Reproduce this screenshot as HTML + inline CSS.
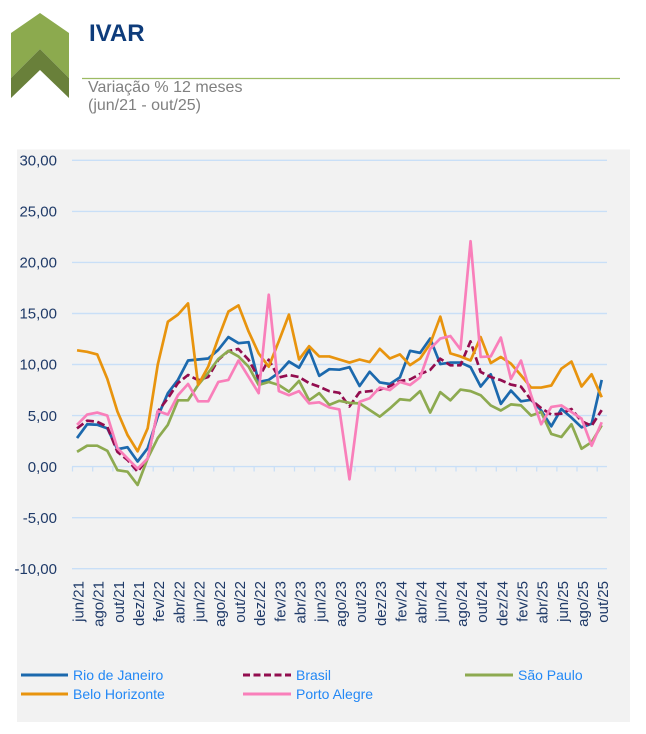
<!DOCTYPE html>
<html>
<head>
<meta charset="utf-8">
<style>
  html,body{margin:0;padding:0;background:#ffffff;}
  body{width:646px;height:734px;overflow:hidden;position:relative;font-family:"Liberation Sans",Arial,sans-serif;}
  svg{position:absolute;left:0;top:0;}
</style>
</head>
<body>
<svg width="646" height="734" viewBox="0 0 646 734" xmlns="http://www.w3.org/2000/svg">
  <!-- header icon -->
  <polygon points="11,33 40,13 69,33 69,78 40,49 11,78" fill="#8CAA4E"/>
  <polygon points="11,78 40,49 69,78 69,98 40,70 11,98" fill="#69803A"/>
  <text x="89" y="41" font-family="Liberation Sans, Arial, sans-serif" font-size="24" font-weight="bold" fill="#0E3C7B">IVAR</text>
  <line x1="82" y1="78.5" x2="620" y2="78.5" stroke="#9DBB63" stroke-width="1.2"/>
  <text x="88" y="92" font-family="Liberation Sans, Arial, sans-serif" font-size="16" fill="#808080">Variação % 12 meses</text>
  <text x="88" y="110" font-family="Liberation Sans, Arial, sans-serif" font-size="16" fill="#808080">(jun/21 - out/25)</text>

  <!-- chart background -->
  <rect x="17" y="149.5" width="613" height="572.5" fill="#F2F2F2"/>

  <!-- gridlines -->
  <g stroke="#C9DFF7" stroke-width="1.4">
    <line x1="72" y1="160.3" x2="607" y2="160.3"/>
    <line x1="72" y1="211.4" x2="607" y2="211.4"/>
    <line x1="72" y1="262.4" x2="607" y2="262.4"/>
    <line x1="72" y1="313.5" x2="607" y2="313.5"/>
    <line x1="72" y1="364.5" x2="607" y2="364.5"/>
    <line x1="72" y1="415.6" x2="607" y2="415.6"/>
    <line x1="72" y1="466.6" x2="607" y2="466.6"/>
    <line x1="72" y1="517.7" x2="607" y2="517.7"/>
    <line x1="72" y1="568.7" x2="607" y2="568.7"/>
  </g>
  <!-- tick marks -->
  <g stroke="#C9DFF7" stroke-width="1.3">
    <line x1="72.5" y1="466.6" x2="72.5" y2="471.5"/>
    <line x1="92.7" y1="466.6" x2="92.7" y2="471.5"/>
    <line x1="112.9" y1="466.6" x2="112.9" y2="471.5"/>
    <line x1="133.0" y1="466.6" x2="133.0" y2="471.5"/>
    <line x1="153.2" y1="466.6" x2="153.2" y2="471.5"/>
    <line x1="173.4" y1="466.6" x2="173.4" y2="471.5"/>
    <line x1="193.6" y1="466.6" x2="193.6" y2="471.5"/>
    <line x1="213.8" y1="466.6" x2="213.8" y2="471.5"/>
    <line x1="234.0" y1="466.6" x2="234.0" y2="471.5"/>
    <line x1="254.1" y1="466.6" x2="254.1" y2="471.5"/>
    <line x1="274.3" y1="466.6" x2="274.3" y2="471.5"/>
    <line x1="294.5" y1="466.6" x2="294.5" y2="471.5"/>
    <line x1="314.7" y1="466.6" x2="314.7" y2="471.5"/>
    <line x1="334.9" y1="466.6" x2="334.9" y2="471.5"/>
    <line x1="355.0" y1="466.6" x2="355.0" y2="471.5"/>
    <line x1="375.2" y1="466.6" x2="375.2" y2="471.5"/>
    <line x1="395.4" y1="466.6" x2="395.4" y2="471.5"/>
    <line x1="415.6" y1="466.6" x2="415.6" y2="471.5"/>
    <line x1="435.8" y1="466.6" x2="435.8" y2="471.5"/>
    <line x1="456.0" y1="466.6" x2="456.0" y2="471.5"/>
    <line x1="476.1" y1="466.6" x2="476.1" y2="471.5"/>
    <line x1="496.3" y1="466.6" x2="496.3" y2="471.5"/>
    <line x1="516.5" y1="466.6" x2="516.5" y2="471.5"/>
    <line x1="536.7" y1="466.6" x2="536.7" y2="471.5"/>
    <line x1="556.9" y1="466.6" x2="556.9" y2="471.5"/>
    <line x1="577.0" y1="466.6" x2="577.0" y2="471.5"/>
    <line x1="597.2" y1="466.6" x2="597.2" y2="471.5"/>
  </g>

  <!-- y labels -->
  <g font-family="Liberation Sans, Arial, sans-serif" font-size="15" fill="#1F3A68" text-anchor="end">
    <text x="57" y="165.5">30,00</text>
    <text x="57" y="216.6">25,00</text>
    <text x="57" y="267.6">20,00</text>
    <text x="57" y="318.7">15,00</text>
    <text x="57" y="369.7">10,00</text>
    <text x="57" y="420.8">5,00</text>
    <text x="57" y="471.8">0,00</text>
    <text x="57" y="522.9">-5,00</text>
    <text x="57" y="573.9">-10,00</text>
  </g>

  <!-- x labels -->
  <g font-family="Liberation Sans, Arial, sans-serif" font-size="15" fill="#1F3A68" text-anchor="end">
    <text transform="translate(78.5,581) rotate(-90)" dy="5">jun/21</text>
    <text transform="translate(98.7,581) rotate(-90)" dy="5">ago/21</text>
    <text transform="translate(118.9,581) rotate(-90)" dy="5">out/21</text>
    <text transform="translate(139.1,581) rotate(-90)" dy="5">dez/21</text>
    <text transform="translate(159.2,581) rotate(-90)" dy="5">fev/22</text>
    <text transform="translate(179.4,581) rotate(-90)" dy="5">abr/22</text>
    <text transform="translate(199.6,581) rotate(-90)" dy="5">jun/22</text>
    <text transform="translate(219.8,581) rotate(-90)" dy="5">ago/22</text>
    <text transform="translate(239.9,581) rotate(-90)" dy="5">out/22</text>
    <text transform="translate(260.1,581) rotate(-90)" dy="5">dez/22</text>
    <text transform="translate(280.3,581) rotate(-90)" dy="5">fev/23</text>
    <text transform="translate(300.5,581) rotate(-90)" dy="5">abr/23</text>
    <text transform="translate(320.7,581) rotate(-90)" dy="5">jun/23</text>
    <text transform="translate(340.8,581) rotate(-90)" dy="5">ago/23</text>
    <text transform="translate(361.0,581) rotate(-90)" dy="5">out/23</text>
    <text transform="translate(381.2,581) rotate(-90)" dy="5">dez/23</text>
    <text transform="translate(401.4,581) rotate(-90)" dy="5">fev/24</text>
    <text transform="translate(421.6,581) rotate(-90)" dy="5">abr/24</text>
    <text transform="translate(441.7,581) rotate(-90)" dy="5">jun/24</text>
    <text transform="translate(461.9,581) rotate(-90)" dy="5">ago/24</text>
    <text transform="translate(482.1,581) rotate(-90)" dy="5">out/24</text>
    <text transform="translate(502.3,581) rotate(-90)" dy="5">dez/24</text>
    <text transform="translate(522.5,581) rotate(-90)" dy="5">fev/25</text>
    <text transform="translate(542.6,581) rotate(-90)" dy="5">abr/25</text>
    <text transform="translate(562.8,581) rotate(-90)" dy="5">jun/25</text>
    <text transform="translate(583.0,581) rotate(-90)" dy="5">ago/25</text>
    <text transform="translate(603.2,581) rotate(-90)" dy="5">out/25</text>
  </g>

  <!-- series -->
  <g transform="translate(77.05,466.6) scale(10.09,-10.2)" fill="none" stroke-linejoin="round" stroke-linecap="butt">
    <!-- Rio de Janeiro -->
    <polyline vector-effect="non-scaling-stroke" stroke="#1C69AD" stroke-width="2.7"
      points="0,2.8 1,4.15 2,4.1 3,3.75 4,1.7 5,1.9 6,0.5 7,1.8 8,4.9 9,7.2 10,8.5 11,10.4 12,10.5 13,10.6 14,11.45 15,12.7 16,12.1 17,12.2 18,8.3 19,8.5 20,9.2 21,10.3 22,9.7 23,11.45 24,8.9 25,9.55 26,9.5 27,9.75 28,7.9 29,9.3 30,8.25 31,8.1 32,8.75 33,11.35 34,11.15 35,12.55 36,10.05 37,10.2 38,10.2 39,9.75 40,7.85 41,9.05 42,6.15 43,7.45 44,6.4 45,6.55 46,5.5 47,3.95 48,5.65 49,4.8 50,3.85 51,4.2 52,8.5"/>
  </g>
  <!-- Brasil (dashed) -->
  <polyline fill="none" stroke="#930D4F" stroke-width="2.7" stroke-dasharray="8 3.5" stroke-linejoin="round"
    points="77.0,428.4 87.1,420.7 97.2,421.7 107.3,426.8 117.4,451.8 127.5,459.9 137.6,471.6 147.7,458.4 157.7,411.6 167.8,398.4 177.9,383.1 188.0,375.0 198.1,380.1 208.2,377.0 218.3,359.7 228.4,351.1 238.4,349.0 248.5,359.7 258.6,378.0 268.7,359.7 278.8,377.5 288.9,375.0 299.0,377.0 309.1,383.1 319.2,386.7 329.3,391.2 339.3,392.8 349.4,406.5 359.5,392.3 369.6,391.2 379.7,389.7 389.8,386.2 399.9,381.1 410.0,379.5 420.1,374.0 430.2,369.9 440.2,358.7 450.3,365.3 460.4,365.3 470.5,341.4 480.6,371.9 490.7,377.0 500.8,380.1 510.9,384.6 521.0,386.7 531.1,399.9 541.1,408.0 551.2,414.6 561.3,413.6 571.4,409.0 581.5,421.2 591.6,425.8 601.7,410.1"/>
  <g transform="translate(77.05,466.6) scale(10.09,-10.2)" fill="none" stroke-linejoin="round" stroke-linecap="butt">
    <!-- São Paulo -->
    <polyline vector-effect="non-scaling-stroke" stroke="#8DAA50" stroke-width="2.7"
      points="0,1.45 1,2.05 2,2.05 3,1.55 4,-0.35 5,-0.5 6,-1.8 7,0.8 8,2.8 9,4.1 10,6.5 11,6.5 12,8.0 13,9.2 14,10.55 15,11.35 16,10.8 17,9.8 18,8.0 19,8.3 20,8.0 21,7.35 22,8.4 23,6.5 24,7.2 25,6.05 26,6.45 27,6.25 28,6.2 29,5.55 30,4.9 31,5.7 32,6.6 33,6.5 34,7.4 35,5.3 36,7.3 37,6.5 38,7.55 39,7.4 40,7.0 41,6.0 42,5.5 43,6.1 44,6.0 45,5.0 46,5.35 47,3.2 48,2.9 49,4.15 50,1.75 51,2.4 52,4.05"/>
    <!-- Belo Horizonte -->
    <polyline vector-effect="non-scaling-stroke" stroke="#E8940E" stroke-width="2.7"
      points="0,11.4 1,11.25 2,11.0 3,8.6 4,5.4 5,3.1 6,1.5 7,3.75 8,10.0 9,14.2 10,14.9 11,16.0 12,8.0 13,9.8 14,12.6 15,15.2 16,15.8 17,13.25 18,11.1 19,9.8 20,12.3 21,14.9 22,10.5 23,11.8 24,10.8 25,10.8 26,10.5 27,10.2 28,10.5 29,10.25 30,11.55 31,10.6 32,11.0 33,9.95 34,10.6 35,12.05 36,14.7 37,11.1 38,10.8 39,10.4 40,12.7 41,10.15 42,10.75 43,10.1 44,8.95 45,7.75 46,7.75 47,7.95 48,9.6 49,10.3 50,7.85 51,9.05 52,6.8"/>
    <!-- Porto Alegre -->
    <polyline vector-effect="non-scaling-stroke" stroke="#F97FBA" stroke-width="2.7"
      points="0,4.1 1,5.1 2,5.3 3,5.0 4,1.8 5,0.8 6,-0.2 7,0.8 8,5.45 9,5.1 10,7.0 11,8.1 12,6.4 13,6.4 14,8.3 15,8.5 16,10.4 17,8.8 18,7.2 19,16.85 20,7.4 21,7.0 22,7.4 23,6.2 24,6.3 25,5.8 26,5.6 27,-1.25 28,6.35 29,6.7 30,7.75 31,7.5 32,8.3 33,8.0 34,8.75 35,11.55 36,12.55 37,12.8 38,11.5 39,22.1 40,10.75 41,10.8 42,12.65 43,8.6 44,10.4 45,7.0 46,4.15 47,5.85 48,6.0 49,5.35 50,4.7 51,2.05 52,4.35"/>
  </g>

  <!-- legend -->
  <g stroke-width="3">
    <line x1="21" y1="675" x2="68" y2="675" stroke="#1C69AD"/>
    <line x1="243" y1="675" x2="291" y2="675" stroke="#930D4F" stroke-dasharray="7 3.5"/>
    <line x1="465" y1="675" x2="513" y2="675" stroke="#8DAA50"/>
    <line x1="21" y1="694" x2="68" y2="694" stroke="#E8940E"/>
    <line x1="243" y1="694" x2="291" y2="694" stroke="#F97FBA"/>
  </g>
  <g font-family="Liberation Sans, Arial, sans-serif" font-size="14" fill="#2388F5">
    <text x="73" y="680">Rio de Janeiro</text>
    <text x="296" y="680">Brasil</text>
    <text x="518" y="680">São Paulo</text>
    <text x="73" y="699">Belo Horizonte</text>
    <text x="296" y="699">Porto Alegre</text>
  </g>
</svg>
</body>
</html>
